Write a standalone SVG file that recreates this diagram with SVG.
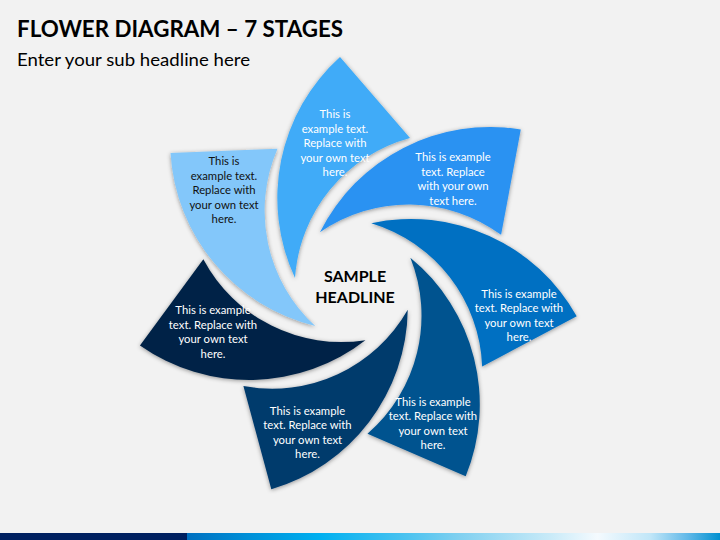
<svg xmlns="http://www.w3.org/2000/svg" width="720" height="540" viewBox="0 0 720 540">
<defs>
<filter id="sh" x="-20%" y="-20%" width="140%" height="140%">
<feDropShadow dx="0" dy="1" stdDeviation="2.2" flood-color="#000" flood-opacity="0.4"/>
</filter>
<path id="petal" d="M295,278 A190,190 0 0 1 340,57 L410,138 A156,156 0 0 0 295,278 Z"/>
<linearGradient id="bar" x1="187" y1="0" x2="720" y2="0" gradientUnits="userSpaceOnUse">
<stop offset="0" stop-color="#0070C0"/>
<stop offset="0.115" stop-color="#0090D8"/>
<stop offset="0.25" stop-color="#00B0F0"/>
<stop offset="0.42" stop-color="#50C4F0"/>
<stop offset="0.51" stop-color="#80D0F0"/>
<stop offset="0.68" stop-color="#C8EAF8"/>
<stop offset="0.77" stop-color="#F4FAFE"/>
<stop offset="0.87" stop-color="#C0E6F8"/>
<stop offset="0.94" stop-color="#60B8E8"/>
<stop offset="1" stop-color="#0090D0"/>
</linearGradient>
</defs>
<style>
.t{font-family:Lato,"Noto Sans",sans-serif;font-size:11.3px;text-anchor:middle;fill:#FFFFFF}
.d{fill:#111111}
.h{font-family:Lato,"Noto Sans",sans-serif;font-size:16px;font-weight:bold;text-anchor:middle;fill:#000}
</style>
<rect width="720" height="540" fill="#F2F2F2"/>
<text x="17" y="37" font-family="Lato,'Noto Sans',sans-serif" font-size="22" font-weight="bold" fill="#000" textLength="326" lengthAdjust="spacingAndGlyphs">FLOWER DIAGRAM – 7 STAGES</text>
<text x="17" y="66" font-family="Lato,'Noto Sans',sans-serif" font-size="18" fill="#000" textLength="233" lengthAdjust="spacingAndGlyphs">Enter your sub headline here</text>

<g id="petals" filter="url(#sh)">
<g id="p1"><use href="#petal" fill="#3FABF8"/></g>
<g id="p2"><use href="#petal" fill="#2A92F2" transform="rotate(51.4286 355 281)"/></g>
<g id="p3"><use href="#petal" fill="#0070C2" transform="rotate(102.857 355 281)"/></g>
<g id="p4"><use href="#petal" fill="#00538F" transform="rotate(154.286 355 281)"/></g>
<g id="p5"><use href="#petal" fill="#003A6C" transform="rotate(205.714 355 281)"/></g>
<g id="p6"><use href="#petal" fill="#002446" transform="rotate(257.143 355 281)"/></g>
<g id="p7"><use href="#petal" fill="#83C7FA" transform="rotate(308.571 355 281)"/></g>
</g>

<g id="texts">
<text class="t" x="335"><tspan x="335" y="118">This is</tspan><tspan x="335" y="132.5">example text.</tspan><tspan x="335" y="147">Replace with</tspan><tspan x="335" y="161.5">your own text</tspan><tspan x="335" y="176">here.</tspan></text>
<text class="t" x="453"><tspan x="453" y="161">This is example</tspan><tspan x="453" y="175.5">text. Replace</tspan><tspan x="453" y="190">with your own</tspan><tspan x="453" y="204.5">text here.</tspan></text>
<text class="t" x="519"><tspan x="519" y="297.5">This is example</tspan><tspan x="519" y="312">text. Replace with</tspan><tspan x="519" y="326.5">your own text</tspan><tspan x="519" y="341">here.</tspan></text>
<text class="t" x="433"><tspan x="433" y="405.5">This is example</tspan><tspan x="433" y="420">text. Replace with</tspan><tspan x="433" y="434.5">your own text</tspan><tspan x="433" y="449">here.</tspan></text>
<text class="t" x="307.5"><tspan x="307.5" y="414.5">This is example</tspan><tspan x="307.5" y="429">text. Replace with</tspan><tspan x="307.5" y="443.5">your own text</tspan><tspan x="307.5" y="458">here.</tspan></text>
<text class="t" x="213"><tspan x="213" y="314">This is example</tspan><tspan x="213" y="328.5">text. Replace with</tspan><tspan x="213" y="343">your own text</tspan><tspan x="213" y="357.5">here.</tspan></text>
<text class="t d" x="224"><tspan x="224" y="165">This is</tspan><tspan x="224" y="179.5">example text.</tspan><tspan x="224" y="194">Replace with</tspan><tspan x="224" y="208.5">your own text</tspan><tspan x="224" y="223">here.</tspan></text>
</g>

<g id="center">
<text class="h" x="355" y="282">SAMPLE</text>
<text class="h" x="355" y="303">HEADLINE</text>
</g>

<g id="bottom-bar">
<rect x="0" y="533" width="187" height="7" fill="#002060"/>
<rect x="187" y="533" width="533" height="7" fill="url(#bar)"/>
</g>
</svg>
